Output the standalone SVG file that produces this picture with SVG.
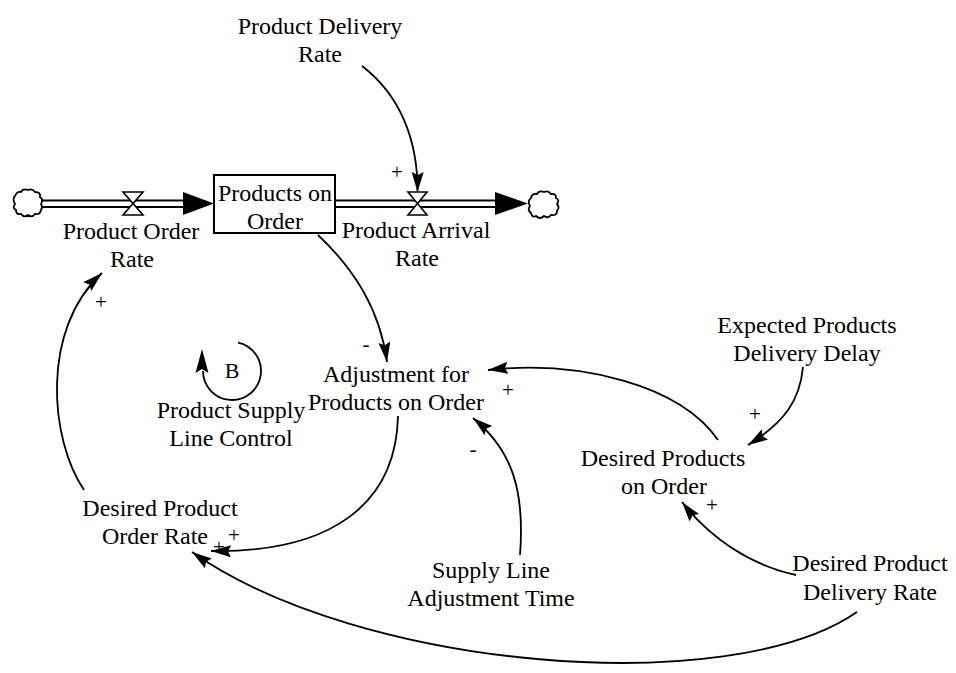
<svg xmlns="http://www.w3.org/2000/svg" width="956" height="673" viewBox="0 0 956 673">
<style>
.t{font-family:"Liberation Serif","Times New Roman",serif;font-size:24px;fill:#000;text-anchor:middle}
.s{font-family:"Liberation Serif","Times New Roman",serif;font-size:21px;fill:#000;text-anchor:middle}
.lk{fill:none;stroke:#000;stroke-width:1.8}
.pipe{stroke:#000;stroke-width:2}
.cloud{fill:#fff;stroke:#000;stroke-width:1.8}
.valve{fill:#fff;stroke:#000;stroke-width:1.6}
</style>
<defs>
<marker id="ah" markerUnits="userSpaceOnUse" markerWidth="22" markerHeight="14" refX="20" refY="6" orient="auto">
<path d="M0,0 L20,6 L0,12 L3,6 z" fill="#000"/>
</marker>
</defs>
<rect width="956" height="673" fill="#fff"/>

<g id="cloud-left">
<path class="cloud" d="M15,196 q2,-5 6,-4 q2,-4 7,-2 q4,-2 7,2 q6,0 5,5 q4,3 1,7 q2,3 0,6 q-1,5 -6,4 q-3,4 -7,1 q-4,3 -7,-1 q-5,1 -5,-4 q-4,-2 -1,-6 q-3,-5 0,-8 z"/>
</g>
<g id="cloud-right">
<path class="cloud" d="M531,198 q1,-5 6,-4 q2,-4 7,-2 q4,-2 7,2 q5,-1 5,4 q4,2 1,6 q3,3 0,7 q0,5 -6,4 q-3,4 -7,1 q-4,4 -8,0 q-4,2 -5,-3 q-4,-3 -1,-7 q-3,-5 1,-8 z"/>
</g>

<g id="flow-product-order-rate">
<line class="pipe" x1="41" y1="200.5" x2="185" y2="200.5"/>
<line class="pipe" x1="41" y1="207" x2="185" y2="207"/>
<polygon points="183,192 214,203.5 183,215" fill="#000"/>
<polygon class="valve" points="123,192 143,192 133,203.5"/>
<polygon class="valve" points="123,215 143,215 133,203.5"/>
<text class="t" x="131" y="239">Product Order</text>
<text class="t" x="132" y="267">Rate</text>
</g>

<g id="stock-products-on-order">
<rect x="214" y="175" width="121" height="58" fill="#fff" stroke="#000" stroke-width="2"/>
<text class="t" x="275" y="201">Products on</text>
<text class="t" x="275" y="229">Order</text>
</g>

<g id="flow-product-arrival-rate">
<line class="pipe" x1="336" y1="200.5" x2="497" y2="200.5"/>
<line class="pipe" x1="336" y1="207" x2="497" y2="207"/>
<polygon points="495,192 528,203.5 495,215" fill="#000"/>
<polygon class="valve" points="408,192 427,192 417.5,203.5"/>
<polygon class="valve" points="408,215 427,215 417.5,203.5"/>
<text class="t" x="416" y="238">Product Arrival</text>
<text class="t" x="417" y="266">Rate</text>
</g>

<g id="product-delivery-rate">
<text class="t" x="320" y="34">Product Delivery</text>
<text class="t" x="320" y="62">Rate</text>
</g>

<g id="adjustment-for-products-on-order">
<text class="t" x="396" y="382">Adjustment for</text>
<text class="t" x="396" y="410">Products on Order</text>
</g>

<g id="loop-b">
<path d="M238,342.6 A29,29 0 1 1 203,371" fill="none" stroke="#000" stroke-width="1.8"/>
<polygon points="202,349 208.5,373 202,369 195.5,373" fill="#000"/>
<text x="232" y="378" style="font-family:'Liberation Serif','Times New Roman',serif;font-size:22px;text-anchor:middle">B</text>
<text class="t" x="231" y="418">Product Supply</text>
<text class="t" x="231" y="446">Line Control</text>
</g>

<g id="expected-products-delivery-delay">
<text class="t" x="807" y="333">Expected Products</text>
<text class="t" x="807" y="361">Delivery Delay</text>
</g>

<g id="desired-products-on-order">
<text class="t" x="663" y="466">Desired Products</text>
<text class="t" x="664" y="494">on Order</text>
</g>

<g id="desired-product-order-rate">
<text class="t" x="160" y="516">Desired Product</text>
<text class="t" x="155" y="544">Order Rate</text>
</g>

<g id="supply-line-adjustment-time">
<text class="t" x="491" y="578">Supply Line</text>
<text class="t" x="491" y="606">Adjustment Time</text>
</g>

<g id="desired-product-delivery-rate">
<text class="t" x="870" y="571">Desired Product</text>
<text class="t" x="870" y="600">Delivery Rate</text>
</g>

<g id="connectors">
<path class="lk" marker-end="url(#ah)" d="M362,66 C400,95 418,140 417.5,192"/>
<text class="s" x="397" y="179">+</text>

<path class="lk" marker-end="url(#ah)" d="M318,235 C355,270 380,310 387,362"/>
<text class="s" x="366" y="351">-</text>

<path class="lk" marker-end="url(#ah)" d="M398,416 C396,505 330,553 211,551"/>
<text class="s" x="234" y="542">+</text>
<text class="s" x="219" y="554">+</text>

<path class="lk" marker-end="url(#ah)" d="M857,612 C730,700 360,670 192,552"/>

<path class="lk" marker-end="url(#ah)" d="M84,490 C50,440 40,330 102,273"/>
<text class="s" x="101" y="309">+</text>

<path class="lk" marker-end="url(#ah)" d="M718,440 C680,385 580,360 488,370"/>
<text class="s" x="508" y="397">+</text>

<path class="lk" marker-end="url(#ah)" d="M520,555 C525,490 512,450 473,418"/>
<text class="s" x="473" y="456">-</text>

<path class="lk" marker-end="url(#ah)" d="M803,367 C800,400 785,422 748,445"/>
<text class="s" x="755" y="421">+</text>

<path class="lk" marker-end="url(#ah)" d="M796,575 C750,565 710,538 682,502"/>
<text class="s" x="712" y="512">+</text>
</g>
</svg>
